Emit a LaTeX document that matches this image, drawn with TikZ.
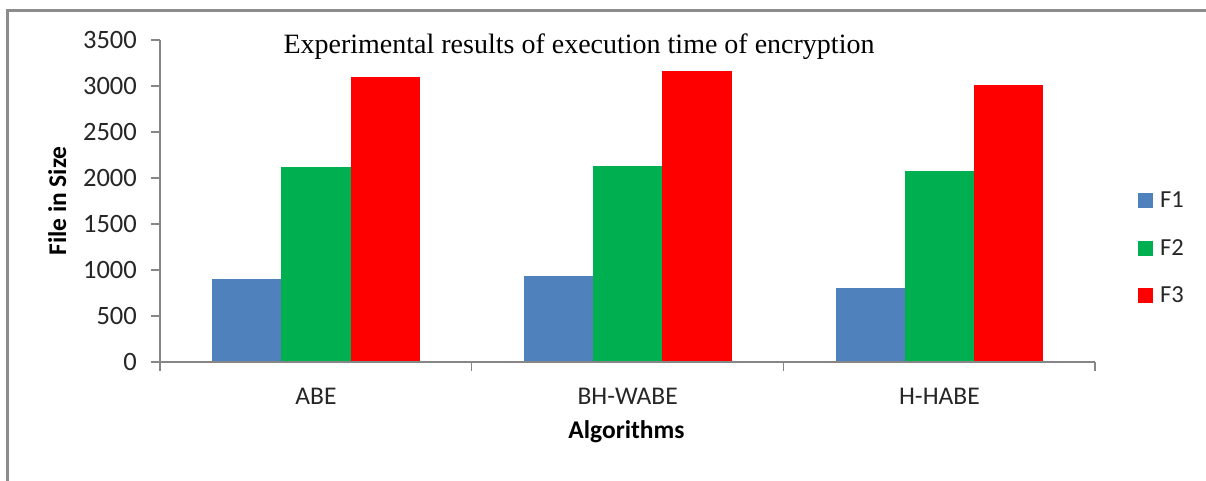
\documentclass[tikz,border=0pt]{standalone}
\usepackage{fontspec}
\setmainfont{Liberation Serif}
\newfontfamily\carlito{Carlito}
\definecolor{barblue}{HTML}{4F81BD}
\definecolor{bargreen}{HTML}{00B050}
\definecolor{barred}{HTML}{FF0000}
\definecolor{axisgray}{HTML}{868686}
\definecolor{framegray}{HTML}{8C8C8C}
\definecolor{txtcol}{HTML}{262626}
\begin{document}
\begin{tikzpicture}[x=1pt,y=-1pt,
  ticklabel/.style={font=\carlito\fontsize{26.5}{30}\selectfont, text=txtcol, anchor=base east, inner sep=0},
  catlabel/.style={font=\carlito\fontsize{25.5}{30}\selectfont, text=txtcol, anchor=base, inner sep=0},
  axistitle/.style={font=\carlito\bfseries\fontsize{25.5}{30}\selectfont, text=black, anchor=base, inner sep=0},
  legtext/.style={font=\carlito\fontsize{24.5}{30}\selectfont, text=txtcol, anchor=base west, inner sep=0},
  axisline/.style={draw=axisgray, line width=1.5pt},
  framebox/.style={draw=framegray, line width=2.5pt}]
\useasboundingbox (0,0) rectangle (1206,480);
\fill[white] (0,0) rectangle (1206,480);
% chart frame (left and top edges visible)
\draw[framebox] (7.5,482) -- (7.5,10.5) -- (1208,10.5);
% title
\node[font=\fontsize{28}{32}\selectfont, anchor=base, inner sep=0] (title) at (579,53) {Experimental results of execution time of encryption};
% bars
\foreach \c/\a/\b/\d/\lab/\nm in {316/900/2120/3100/ABE/abe, 627.7/930/2130/3160/BH-WABE/bhwabe, 939.4/800/2080/3010/H-HABE/hhabe}{
  \fill[barblue]  (\c-103.9,362) rectangle (\c-34.6,{362-\a*0.092});
  \fill[bargreen] (\c-34.6,362)  rectangle (\c+34.6,{362-\b*0.092});
  \fill[barred]   (\c+34.6,362)  rectangle (\c+103.9,{362-\d*0.092});
  \node[catlabel] (cat-\nm) at (\c,404) {\lab};
}
% axes
\draw[axisline] (160,40) -- (160,362) -- (1095,362);
\foreach \v in {0,...,7}{
  \draw[axisline] (151,{362-\v*46}) -- (160,{362-\v*46});
  \pgfmathtruncatemacro\val{\v*500}
  \node[ticklabel] (tick\v) at (137,{362-\v*46+8}) {\val};
}
\foreach \i in {0,...,3}{
  \draw[axisline] ({160+311.67*\i},362) -- ({160+311.67*\i},371);
}
% axis titles
\node[axistitle] (xtitle) at (626.5,438) {Algorithms};
\node[axistitle, rotate=90] (ytitle) at (66,201) {File in Size};
% legend
\foreach \y/\col/\lab in {200/barblue/F1, 248/bargreen/F2, 295/barred/F3}{
  \fill[\col] (1138,\y-7.5) rectangle (1153,\y+7.5);
  \node[legtext] (leg-\lab) at (1160,\y+7.5) {\lab};
}
\end{tikzpicture}
\end{document}
